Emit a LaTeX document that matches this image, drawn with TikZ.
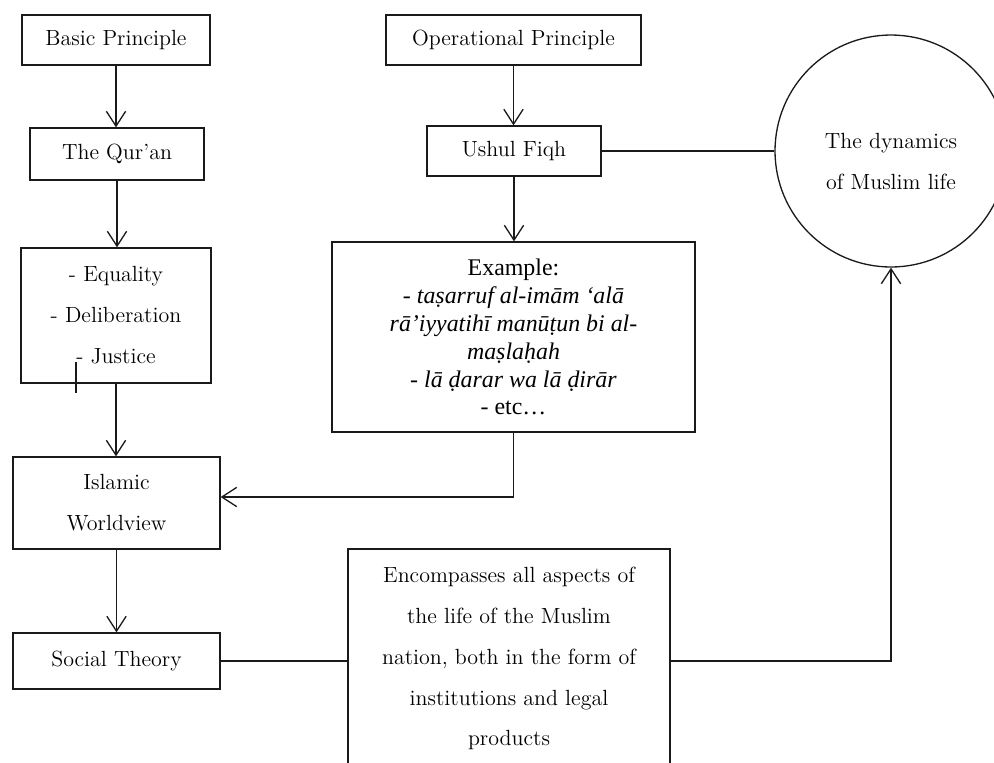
\documentclass[tikz,border=0pt]{standalone}
\usepackage{fontspec}
\usepackage{xcolor}
\usepackage{tikz}
\usetikzlibrary{positioning, arrows.meta, calc}
\newfontfamily\examplefont{Liberation Serif}
\definecolor{inkgray}{HTML}{1A1A1A}

\begin{document}
\begin{tikzpicture}[x=0.02cm, y=-0.02cm,
    every node/.style={font=\fontsize{12.5}{23.3}\selectfont, text=black},
    plainbox/.style={draw=inkgray, line width=0.75pt, inner sep=2pt, align=center},
    flow/.style={draw=inkgray, line width=0.75pt, -{Straight Barb[length=8.5pt, width=11pt]}},
    link/.style={draw=inkgray, line width=0.75pt}]
    \clip (0,0) rectangle (994,762);

    % left column
    \node[plainbox, minimum width=3.76cm, minimum height=1.0cm] (basic) at (116,40) {Basic Principle};
    \node[plainbox, minimum width=3.48cm, minimum height=1.04cm] (quran) at (117,154) {The Qur’an};
    \node[plainbox, minimum width=3.8cm, minimum height=2.7cm] (values) at (116,315.5)
      {- Equality\\- Deliberation\\- Justice};
    \node[plainbox, minimum width=4.14cm, minimum height=1.84cm] (world) at (116.5,503) {Islamic\\Worldview};
    \node[plainbox, minimum width=4.14cm, minimum height=1.12cm] (social) at (116.5,661) {Social Theory};

    % middle column
    \node[plainbox, minimum width=5.1cm, minimum height=1.0cm] (oper) at (513.5,40) {Operational Principle};
    \node[plainbox, minimum width=3.48cm, minimum height=1.0cm] (ushul) at (514,151) {Ushul Fiqh};
    \node[plainbox, minimum width=7.26cm, minimum height=3.8cm,
      font=\examplefont\fontsize{13.6}{15.9}\selectfont] (example) at (513.5,337)
      {Example:\\
       \textit{- taṣarruf al-imām ‘alā}\\
       \textit{rā’iyyatihī manūṭun bi al-}\\
       \textit{maṣlaḥah}\\
       \textit{- lā ḍarar wa lā ḍirār}\\
       - etc…};
    \node[plainbox, minimum width=6.44cm, minimum height=4.38cm] (encomp) at (509,658.5)
      {Encompasses all aspects of\\the life of the Muslim\\nation, both in the form of\\institutions and legal\\products};

    % right
    \node[draw=inkgray, line width=0.75pt, circle, minimum size=4.64cm, inner sep=0pt, align=center] (dyn) at (891,151)
      {\rule{0pt}{21pt}The dynamics\\of Muslim life};

    % connectors
    \draw[flow] (basic.south) -- (basic.south |- quran.north);
    \draw[flow] (quran.south) -- (quran.south |- values.north);
    \draw[flow] (values.south) -- (values.south |- world.north);
    \draw[flow] (world.south) -- (world.south |- social.north);
    \draw[flow] (oper.south) -- (oper.south |- ushul.north);
    \draw[flow] (ushul.south) -- (ushul.south |- example.north);
    \draw[flow] (example.south) |- ([yshift=0.12cm]world.east);
    \draw[link] (ushul.east) -- (dyn.west);
    \draw[link] (social.east) -- (social.east -| encomp.west);
    \draw[flow] (social.east -| encomp.east) -| (dyn.south);
    \draw[link] (76,362) -- (76,393);
\end{tikzpicture}
\end{document}
